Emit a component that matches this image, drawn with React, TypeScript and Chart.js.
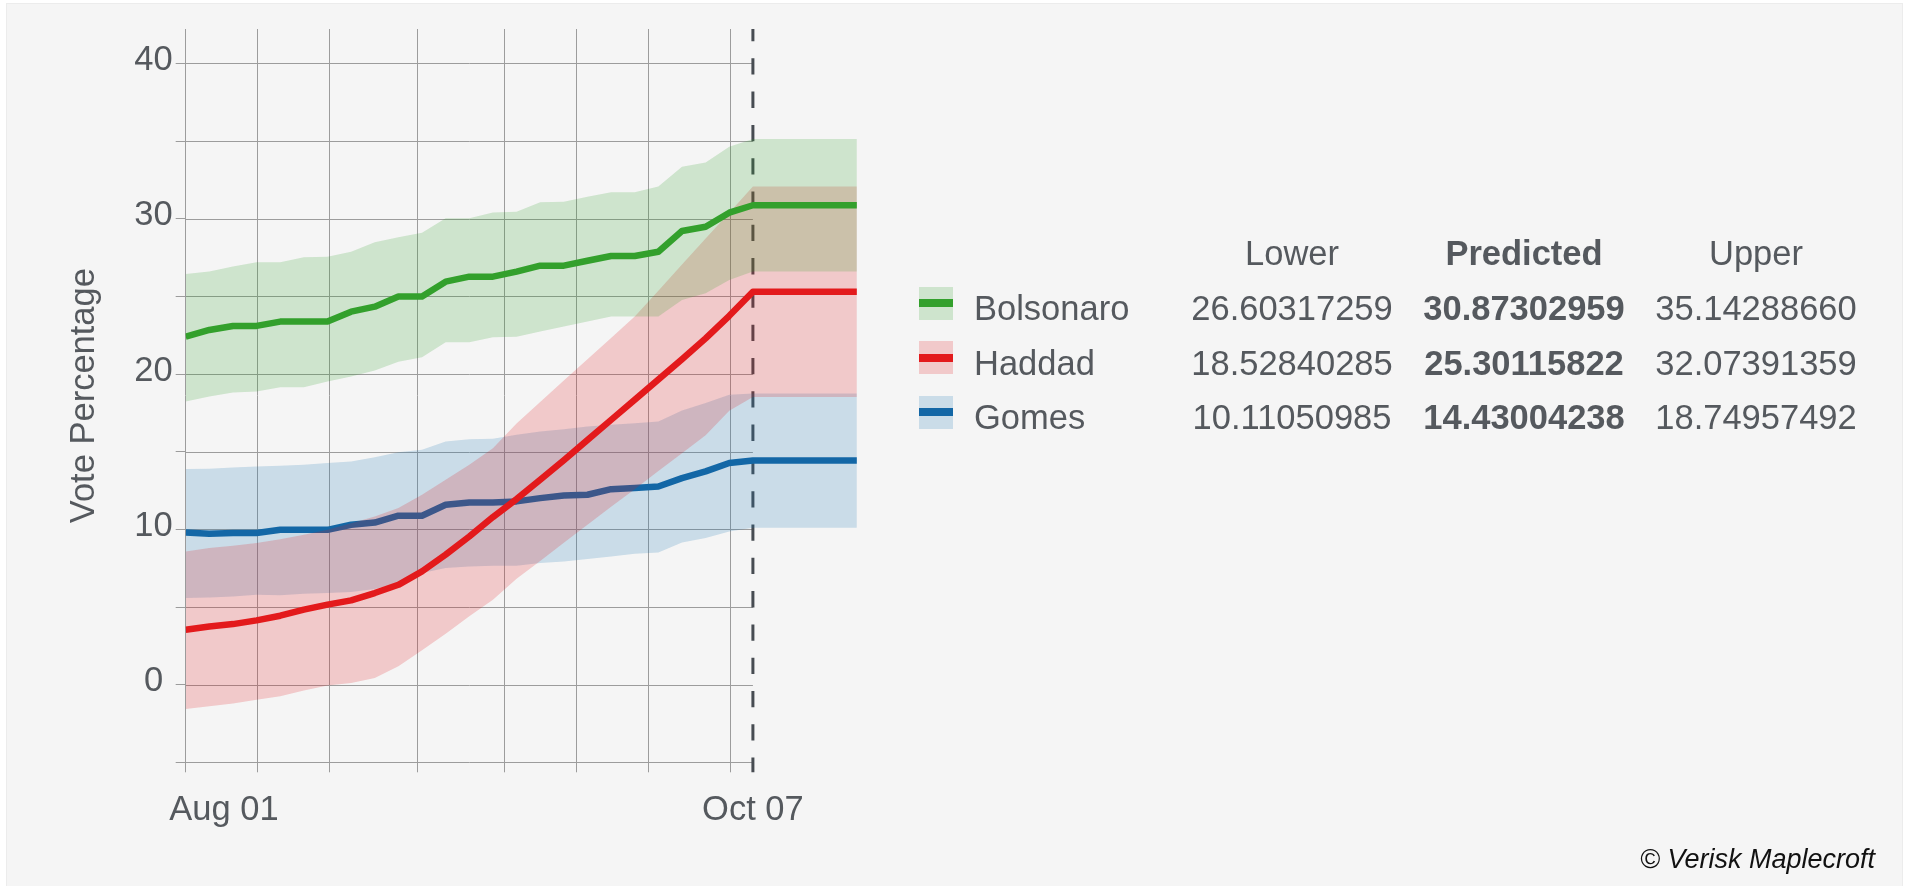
import React, { useEffect, useRef } from 'react';
import { Chart, registerables } from 'chart.js';

Chart.register(...registerables);

// x positions of the poll points (index units); last point is the flat forecast extension
const pointIndex = [0, 1, 2, 3, 4, 5, 6, 7, 8, 9, 10, 11, 12, 13, 14, 15, 16, 17, 18, 19, 20, 21, 22, 23, 24, 28.4];
const gridPositions = [0, 3.05, 6.1, 9.79, 13.49, 16.54, 19.59, 23.06];
const forecastIndex = 24;
const xLabelPositions = [1.62, 24];
const xLabels = ['Aug 01', 'Oct 07'];
const yTickValues = [-5, 0, 5, 10, 15, 20, 25, 30, 35, 40];
const yLabelValues = [0, 10, 20, 30, 40];

const bolsonaroMid = [22.41, 22.84, 23.1, 23.1, 23.38, 23.38, 23.38, 24.02, 24.34, 24.99, 24.99, 25.95, 26.27, 26.27, 26.6, 26.98, 26.98, 27.3, 27.6, 27.6, 27.88, 29.21, 29.49, 30.39, 30.87, 30.87];
const bolsonaroUpper = [26.45, 26.6, 26.92, 27.2, 27.2, 27.52, 27.55, 27.88, 28.49, 28.81, 29.1, 30.03, 30.03, 30.4, 30.46, 31.06, 31.1, 31.42, 31.7, 31.7, 32.07, 33.35, 33.63, 34.64, 35.14, 35.14];
const bolsonaroLower = [18.23, 18.55, 18.81, 18.87, 19.15, 19.15, 19.52, 19.84, 20.23, 20.8, 21.08, 22.05, 22.05, 22.37, 22.41, 22.74, 23.06, 23.38, 23.7, 23.7, 23.7, 24.77, 25.2, 26.06, 26.6, 26.6];

const haddadMid = [3.54, 3.75, 3.9, 4.14, 4.44, 4.83, 5.15, 5.43, 5.9, 6.43, 7.29, 8.37, 9.54, 10.79, 11.95, 13.2, 14.45, 15.75, 17.05, 18.35, 19.65, 20.95, 22.3, 23.75, 25.3, 25.3];
const haddadUpper = [8.58, 8.8, 8.94, 9.12, 9.37, 9.65, 9.97, 10.4, 10.83, 11.37, 12.23, 13.19, 14.16, 15.23, 16.82, 18.2, 19.58, 20.95, 22.33, 23.7, 25.37, 27.05, 28.73, 30.38, 32.07, 32.07];
const haddadLower = [-1.57, -1.39, -1.22, -0.97, -0.75, -0.37, -0.06, 0.11, 0.43, 1.18, 2.21, 3.28, 4.4, 5.47, 6.82, 7.97, 9.13, 10.29, 11.45, 12.59, 13.75, 14.9, 16.06, 17.63, 18.53, 18.53];

const gomesMid = [9.8, 9.72, 9.76, 9.76, 9.97, 9.97, 9.97, 10.3, 10.44, 10.88, 10.88, 11.58, 11.73, 11.73, 11.8, 12.01, 12.18, 12.23, 12.59, 12.66, 12.76, 13.3, 13.73, 14.27, 14.43, 14.43];
const gomesUpper = [13.88, 13.9, 13.98, 14.05, 14.09, 14.16, 14.27, 14.37, 14.65, 14.97, 15.12, 15.66, 15.81, 15.83, 16.09, 16.3, 16.45, 16.62, 16.73, 16.84, 16.94, 17.65, 18.13, 18.66, 18.75, 18.75];
const gomesLower = [5.58, 5.62, 5.68, 5.79, 5.75, 5.86, 5.9, 5.96, 6.16, 6.54, 7.19, 7.51, 7.61, 7.66, 7.66, 7.83, 7.93, 8.09, 8.26, 8.43, 8.51, 9.16, 9.44, 9.86, 10.11, 10.11];

const candidates = ['Bolsonaro', 'Haddad', 'Gomes'];
const lineColors = ['#33a02c', '#e31a1c', '#1367a6'];
const bandColors = ['rgba(51,160,44,0.2)', 'rgba(227,26,28,0.2)', 'rgba(31,120,180,0.2)'];
const tableHeaders = ['Lower', 'Predicted', 'Upper'];
const tableLower = ['26.60317259', '18.52840285', '10.11050985'];
const tablePredicted = ['30.87302959', '25.30115822', '14.43004238'];
const tableUpper = ['35.14288660', '32.07391359', '18.74957492'];

const FONT = "'Liberation Sans', Arial, Helvetica, sans-serif";
const TEXT = '#55595e';
const GRID = '#9c9c9c';

const toXY = (arr: number[]) => pointIndex.map((x, i) => ({ x, y: arr[i] }));

const overlayPlugin = {
  id: 'overlay',
  beforeDatasetsDraw(chart: any) {
    const { ctx, chartArea, scales } = chart;
    const xs = scales.x;
    const ys = scales.y;
    const xEnd = xs.getPixelForValue(forecastIndex);
    ctx.save();
    ctx.strokeStyle = GRID;
    ctx.lineWidth = 1;
    for (const v of yTickValues) {
      const y = Math.round(ys.getPixelForValue(v)) + 0.5;
      ctx.beginPath();
      ctx.moveTo(chartArea.left, y);
      ctx.lineTo(xEnd, y);
      ctx.stroke();
    }
    ctx.strokeStyle = '#474c52';
    ctx.lineWidth = 3;
    ctx.setLineDash([16.3, 17]);
    ctx.lineDashOffset = 4;
    ctx.beginPath();
    ctx.moveTo(xEnd, chartArea.top);
    ctx.lineTo(xEnd, chartArea.bottom + 10);
    ctx.stroke();
    ctx.restore();
  },
};

function ChartCanvas() {
  const ref = useRef<HTMLCanvasElement | null>(null);
  useEffect(() => {
    if (!ref.current) return;
    const series = [
      [bolsonaroMid, bolsonaroUpper, bolsonaroLower],
      [haddadMid, haddadUpper, haddadLower],
      [gomesMid, gomesUpper, gomesLower],
    ];
    const datasets: any[] = [];
    series.forEach(([mid, up, low], k) => {
      datasets.push({
        label: candidates[k],
        data: toXY(mid),
        borderColor: lineColors[k],
        borderWidth: 6.5,
        borderJoinStyle: 'round',
        pointRadius: 0,
        tension: 0,
        fill: false,
        xAxisID: 'x',
        yAxisID: 'y',
      });
      datasets.push({
        label: candidates[k] + ' upper',
        data: toXY(up),
        borderColor: 'transparent',
        borderWidth: 0,
        backgroundColor: bandColors[k],
        pointRadius: 0,
        tension: 0,
        fill: '+1',
        xAxisID: 'x',
        yAxisID: 'y',
      });
      datasets.push({
        label: candidates[k] + ' lower',
        data: toXY(low),
        borderColor: 'transparent',
        borderWidth: 0,
        pointRadius: 0,
        tension: 0,
        fill: false,
        xAxisID: 'x',
        yAxisID: 'y',
      });
    });
    const font = { family: FONT, size: 34.5 };
    const chart = new Chart(ref.current, {
      type: 'line',
      data: { datasets },
      plugins: [overlayPlugin],
      options: {
        animation: false,
        responsive: false,
        devicePixelRatio: 1,
        layout: { padding: { left: 60.2, top: 29, right: 1051.1, bottom: 37.7 } },
        plugins: { legend: { display: false }, tooltip: { enabled: false } },
        scales: {
          x: {
            type: 'linear',
            position: 'bottom',
            weight: 0,
            min: 0,
            max: 28.4,
            afterBuildTicks: (s: any) => {
              s.ticks = gridPositions.map((v) => ({ value: v }));
            },
            ticks: { display: false },
            grid: { color: GRID, lineWidth: 1, drawTicks: true, tickLength: 10 },
            border: { display: false },
          },
          xLabels: {
            type: 'linear',
            axis: 'x',
            position: 'bottom',
            weight: 1,
            min: 0,
            max: 28.4,
            afterBuildTicks: (s: any) => {
              s.ticks = xLabelPositions.map((v) => ({ value: v }));
            },
            ticks: {
              autoSkip: false,
              maxRotation: 0,
              padding: 17.3,
              color: TEXT,
              font,
              callback: (v: any) => {
                const i = xLabelPositions.indexOf(Number(v));
                return i >= 0 ? xLabels[i] : '';
              },
            },
            grid: { display: false, drawTicks: false },
            border: { display: false },
          },
          y: {
            type: 'linear',
            min: -5,
            max: 42.22,
            afterBuildTicks: (s: any) => {
              s.ticks = yTickValues.map((v) => ({ value: v }));
            },
            ticks: {
              autoSkip: false,
              padding: 3,
              crossAlign: 'center',
              labelOffset: -3,
              color: TEXT,
              font,
              callback: (v: any) => (yLabelValues.includes(Number(v)) ? String(v) : ''),
            },
            grid: { color: GRID, lineWidth: 1, drawOnChartArea: false, drawTicks: true, tickLength: 10 },
            border: { display: false },
            title: {
              display: true,
              text: 'Vote Percentage',
              color: TEXT,
              font,
              padding: { top: 4, bottom: 25.7 },
            },
          },
        },
      } as any,
    });
    return () => chart.destroy();
  }, []);
  return (
    <canvas
      ref={ref}
      width={1908}
      height={886}
      style={{ position: 'absolute', left: 0, top: 0, width: 1908, height: 886, display: 'block' }}
    />
  );
}

const baseText: React.CSSProperties = {
  position: 'absolute',
  fontFamily: FONT,
  fontSize: 34.5,
  lineHeight: '40px',
  color: TEXT,
  whiteSpace: 'nowrap',
};

const colCenters = [1292, 1524, 1756];
const headerBaseline = 265;
const rowBaselines = [320, 374.5, 429];

export default function App() {
  const cols = [tableLower, tablePredicted, tableUpper];
  return (
    <div style={{ position: 'absolute', left: 0, top: 0, width: 1908, height: 886, overflow: 'hidden', background: '#ffffff' }}>
      <div
        style={{
          position: 'absolute',
          left: 6,
          top: 3,
          width: 1895,
          height: 890,
          background: '#f5f5f5',
          border: '1px solid #ececec',
        }}
      />
      <ChartCanvas />
      {tableHeaders.map((h, j) => (
        <div
          key={h}
          style={{
            ...baseText,
            left: colCenters[j] - 120,
            width: 240,
            textAlign: 'center',
            top: headerBaseline - 32,
            fontWeight: j === 1 ? 'bold' : 'normal',
          }}
        >
          {h}
        </div>
      ))}
      {candidates.map((name, r) => (
        <React.Fragment key={name}>
          <div
            style={{
              position: 'absolute',
              left: 919,
              top: rowBaselines[r] - 33.3,
              width: 34,
              height: 33,
              background: bandColors[r],
            }}
          >
            <div
              style={{
                position: 'absolute',
                left: 0,
                top: 12.5,
                width: 34,
                height: 8,
                background: lineColors[r],
              }}
            />
          </div>
          <div style={{ ...baseText, left: 974, top: rowBaselines[r] - 32 }}>{name}</div>
          {cols.map((col, j) => (
            <div
              key={j}
              style={{
                ...baseText,
                left: colCenters[j] - 120,
                width: 240,
                textAlign: 'center',
                top: rowBaselines[r] - 32,
                fontWeight: j === 1 ? 'bold' : 'normal',
              }}
            >
              {col[r]}
            </div>
          ))}
        </React.Fragment>
      ))}
      <div
        style={{
          position: 'absolute',
          right: 33,
          top: 842.7,
          fontFamily: FONT,
          fontSize: 27,
          lineHeight: '32px',
          fontStyle: 'italic',
          color: '#111111',
          whiteSpace: 'nowrap',
        }}
      >
        © Verisk Maplecroft
      </div>
    </div>
  );
}
